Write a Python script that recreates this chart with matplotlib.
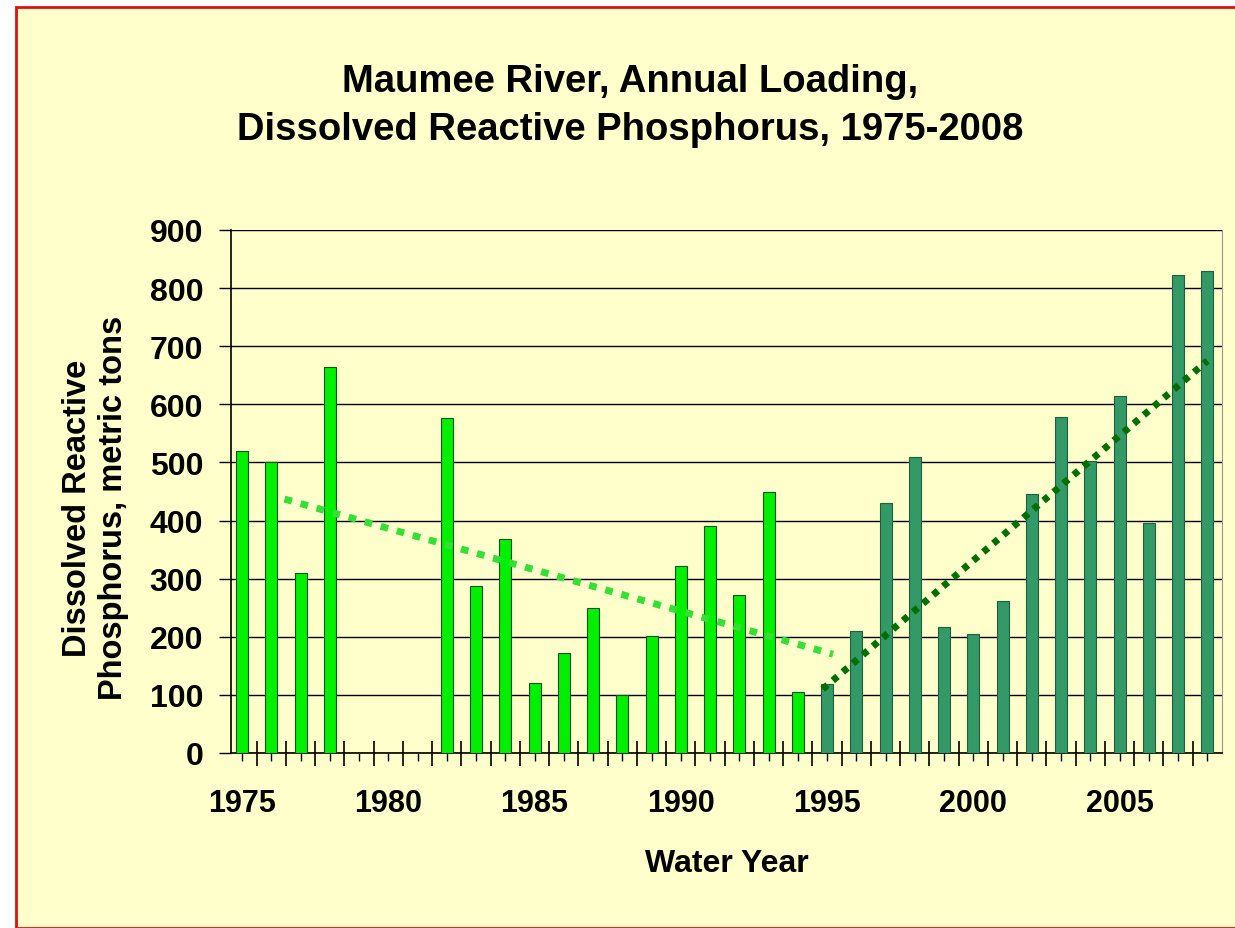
import matplotlib
matplotlib.use("Agg")
import matplotlib.pyplot as plt
from matplotlib.patches import Rectangle
import numpy as np

plt.rcParams['font.family'] = ['Liberation Sans', 'DejaVu Sans']

# Data
years_early = [1975, 1976, 1977, 1978, 1982, 1983, 1984, 1985, 1986, 1987,
               1988, 1989, 1990, 1991, 1992, 1993, 1994]
values_early = [520, 501, 310, 665, 576, 287, 368, 120, 172, 249,
                100, 202, 321, 390, 272, 450, 105]
years_late = [1995, 1996, 1997, 1998, 1999, 2000, 2001, 2002, 2003, 2004,
              2005, 2006, 2007, 2008]
values_late = [118, 210, 430, 510, 217, 205, 262, 445, 578, 503,
               615, 395, 823, 830]
trend_early_x = [1976.45, 1995.2]
trend_early_y = [437, 170]
trend_late_x = [1994.85, 2008.0]
trend_late_y = [110, 675]
xtick_labels = [1975, 1980, 1985, 1990, 1995, 2000, 2005]
yticks = [0, 100, 200, 300, 400, 500, 600, 700, 800, 900]

bg = '#FFFFCC'
fig = plt.figure(figsize=(12.35, 9.29), dpi=100)
fig.patch.set_facecolor('white')
fig.patches.append(Rectangle((16/1235, 0), 1.0, 1 - 8/929, transform=fig.transFigure,
                             facecolor=bg, edgecolor='#DD1111', linewidth=2, zorder=-10))

ax = fig.add_axes([231/1235, 1 - 754/929, (1222 - 231)/1235, (754 - 231)/929])
ax.set_facecolor(bg)

ax.bar(years_early, values_early, width=0.41, color='#00F000', edgecolor='#1a4d1a',
       linewidth=0.8, zorder=3)
ax.bar(years_late, values_late, width=0.41, color='#339966', edgecolor='#1f5f3f',
       linewidth=0.8, zorder=3)

ax.plot(trend_early_x, trend_early_y, color='#33E033', linewidth=5,
        linestyle=(0, (1.1, 1.3)), dash_capstyle='butt', zorder=4)
ax.plot(trend_late_x, trend_late_y, color='#006E00', linewidth=5,
        linestyle=(0, (0.9, 1.0)), dash_capstyle='butt', zorder=4)

x_lo, x_hi = 1974.62, 2008.5
ax.set_xlim(x_lo, x_hi)
ax.set_ylim(0, 900)
ax.set_yticks(yticks)
ax.set_yticklabels([str(v) for v in yticks], fontsize=23, fontweight='bold')
ax.yaxis.grid(True, color='black', linewidth=1.0, zorder=0)
ax.set_axisbelow(True)

all_years = np.arange(1975, 2009)
ax.set_xticks(all_years)
ax.set_xticklabels([str(y) if y in xtick_labels else '' for y in all_years],
                   fontsize=22, fontweight='bold')
ax.set_xticks(np.arange(1975.5, 2008.5, 1.0), minor=True)
ax.tick_params(axis='x', which='major', length=6, direction='out', width=1, pad=19)
ax.tick_params(axis='x', which='minor', length=18, direction='inout', width=1.2)
ax.tick_params(axis='y', which='major', length=9, direction='out', width=1, pad=11)

ax.spines['top'].set_visible(False)
ax.spines['right'].set_color('#999999')
ax.spines['left'].set_linewidth(1.2)
ax.spines['bottom'].set_linewidth(1.2)

ax.set_xlabel('Water Year', fontsize=23, fontweight='bold', labelpad=22)
ax.set_ylabel('Dissolved Reactive\nPhosphorus, metric tons', fontsize=23.5,
              fontweight='bold', linespacing=1.2)
ax.yaxis.set_label_coords((129 - 231) / 991, (754 - 508) / 523)

fig.text(630/1235, 1 - 106/929, 'Maumee River, Annual Loading,\nDissolved Reactive Phosphorus, 1975-2008',
         ha='center', va='center', fontsize=27.5, fontweight='bold', linespacing=1.4)

fig.savefig('out.png', dpi=100, facecolor=fig.get_facecolor())
